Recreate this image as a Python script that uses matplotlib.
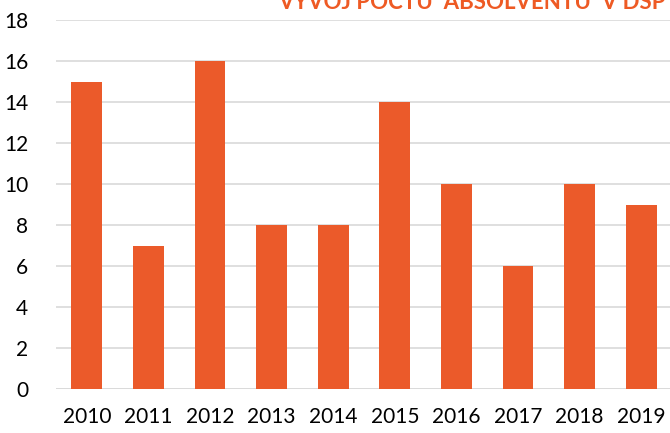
import matplotlib
matplotlib.use("Agg")
import matplotlib.pyplot as plt

years = ["2010", "2011", "2012", "2013", "2014", "2015", "2016", "2017", "2018", "2019"]
graduates = [15, 7, 16, 8, 8, 14, 10, 6, 10, 9]
title = "VÝVOJ POČTU  ABSOLVENTŮ  V DSP"

plt.rcParams['font.family'] = ['Lato', 'DejaVu Sans']

fig = plt.figure(figsize=(6.70, 4.33), dpi=100)
ax = fig.add_axes([56/670, 44/433, 616/670, 369/433])
ax.bar(range(len(years)), graduates, width=0.5, color='#EB5A2A', zorder=3)
ax.set_xlim(-0.5, len(years) - 0.5)
ax.set_ylim(0, 18)
ax.set_yticks(range(0, 19, 2))
ax.set_xticks(range(len(years)))
ax.set_xticklabels(years)
ax.tick_params(axis='both', length=0, labelsize=15, colors='black')
ax.tick_params(axis='x', pad=13)
ax.tick_params(axis='y', pad=20)
ax.yaxis.grid(True, color='#D9D9D9', linewidth=1.2, zorder=0)
for s in ax.spines.values():
    s.set_visible(False)
ax.axhline(0, color='#D9D9D9', linewidth=1.2, zorder=2)

fig.text(278/670, (433 - 9)/433, title, color='#EE5A24', fontsize=16,
         fontweight='bold', ha='left', va='baseline')

fig.savefig("out.png", dpi=100)
